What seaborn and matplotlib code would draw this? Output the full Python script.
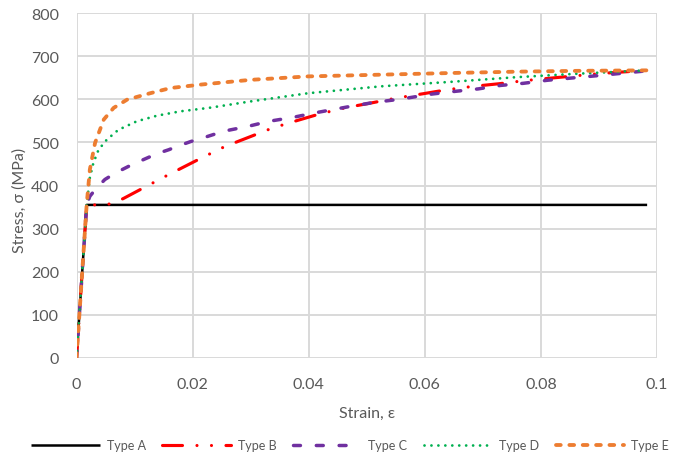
import matplotlib
matplotlib.use("Agg")
import matplotlib.pyplot as plt
import seaborn as sns

# Stress-strain curves for five material models (strain in mm/mm, stress in MPa)
strain_A = [0, 0.00175, 0.0983]
stress_A = [0, 355, 355]

strain_B = [0, 0.00175, 0.0050, 0.0065, 0.0081, 0.0116, 0.0157, 0.0214, 0.0255,
            0.0297, 0.0337, 0.0381, 0.0419, 0.0466, 0.0510, 0.0552, 0.0598,
            0.0638, 0.0684, 0.0728, 0.0771, 0.0817, 0.0857, 0.0905, 0.0983]
stress_B = [0, 355, 355, 360, 370, 395, 424, 463, 490, 512, 533, 551, 566,
            581, 592, 603, 613, 622, 630, 636, 643, 649, 654, 660, 667]

strain_C = [0, 0.00175, 0.0023, 0.0035, 0.0049, 0.0067, 0.0095, 0.0122, 0.0139,
            0.0159, 0.0176, 0.0197, 0.0217, 0.0254, 0.0295, 0.0332, 0.0373,
            0.0413, 0.0470, 0.0514, 0.0557, 0.0612, 0.0650, 0.0692, 0.0730,
            0.0770, 0.0811, 0.0851, 0.0900, 0.0983]
stress_C = [0, 355, 375, 395, 414, 429, 448, 464, 474, 483, 492, 502, 510, 526,
            537, 549, 558, 569, 583, 593, 600, 612, 618, 624, 632, 637, 644,
            649, 655, 666]

strain_D = [0, 0.00175, 0.0023, 0.0029, 0.0038, 0.0052, 0.0072, 0.0104, 0.0139,
            0.0179, 0.0228, 0.0300, 0.0399, 0.0525, 0.0641, 0.0756, 0.0860, 0.0983]
stress_D = [0, 355, 418, 452, 483, 506, 529, 549, 562, 572, 580, 595, 614, 630,
            640, 651, 659, 667]

strain_E = [0, 0.00175, 0.0023, 0.0032, 0.0047, 0.0064, 0.0087, 0.0127, 0.0162,
            0.0214, 0.0300, 0.0399, 0.0525, 0.0650, 0.0760, 0.0872, 0.0983]
stress_E = [0, 355, 437, 499, 553, 580, 599, 614, 626, 634, 645, 653, 657, 661,
            664, 666, 667]

series_names = ["Type A", "Type B", "Type C", "Type D", "Type E"]
x_ticks = [0, 0.02, 0.04, 0.06, 0.08, 0.1]
x_tick_labels = ["0", "0.02", "0.04", "0.06", "0.08", "0.1"]
y_ticks = [0, 100, 200, 300, 400, 500, 600, 700, 800]

TEXT = "#595959"

sns.set_style("whitegrid", {"grid.color": "#D9D9D9", "axes.edgecolor": "white"})
plt.rcParams["font.family"] = ["Lato", "DejaVu Sans"]

fig = plt.figure(figsize=(6.73, 4.56), dpi=100)
ax = fig.add_axes([76.5 / 673, 1 - 359 / 456, 580.5 / 673, 345 / 456])

styles = [
    dict(color="#000000", lw=1.8, linestyle="-", solid_capstyle="butt"),
    dict(color="#FF0000", lw=2.25, linestyle=(0, (6.4, 4.63, 0.01, 4.63, 0.01, 4.63)),
         dash_capstyle="round"),
    dict(color="#7030A0", lw=2.5, linestyle=(0, (2.0, 4.57)), dash_capstyle="round"),
    dict(color="#00B050", lw=2.0, linestyle=(0, (0.01, 2.49)), dash_capstyle="round"),
    dict(color="#ED7D31", lw=2.75, linestyle=(0, (1.24, 2.26)), dash_capstyle="round"),
]
curves = [(strain_A, stress_A), (strain_B, stress_B), (strain_C, stress_C),
          (strain_D, stress_D), (strain_E, stress_E)]

for name, (xs, ys), st in zip(series_names, curves, styles):
    sns.lineplot(x=xs, y=ys, ax=ax, label=name, sort=False, estimator=None, **st)

if ax.get_legend() is not None:
    ax.get_legend().remove()

ax.set_xlim(0, 0.1)
ax.set_ylim(0, 800)
ax.set_xticks(x_ticks)
ax.set_xticklabels(x_tick_labels)
ax.set_yticks(y_ticks)
ax.grid(True, color="#D9D9D9", lw=1.4)
ax.set_axisbelow(True)
for sp in ax.spines.values():
    sp.set_visible(False)
ax.tick_params(axis="both", length=0, labelsize=11.5, labelcolor=TEXT)
ax.tick_params(axis="y", pad=12.5)
ax.tick_params(axis="x", pad=14)

ax.set_xlabel("Strain, ε", fontsize=11.5, color=TEXT, va="center")
ax.xaxis.set_label_coords(0.5, (359 - 414) / 345)
ax.set_ylabel("Stress, σ (MPa)", fontsize=11.5, color=TEXT, va="center")
ax.yaxis.set_label_coords((20 - 76.5) / 580.5, (359 - 200) / 345)

handles, labels = ax.get_legend_handles_labels()
fig.legend(handles, labels, loc="center", bbox_to_anchor=(350 / 673, 1 - 446 / 456),
           ncol=5, frameon=False, fontsize=9, labelcolor=TEXT,
           handlelength=5.5, handletextpad=0.55, columnspacing=1.3)

fig.savefig("out.png", dpi=100)
